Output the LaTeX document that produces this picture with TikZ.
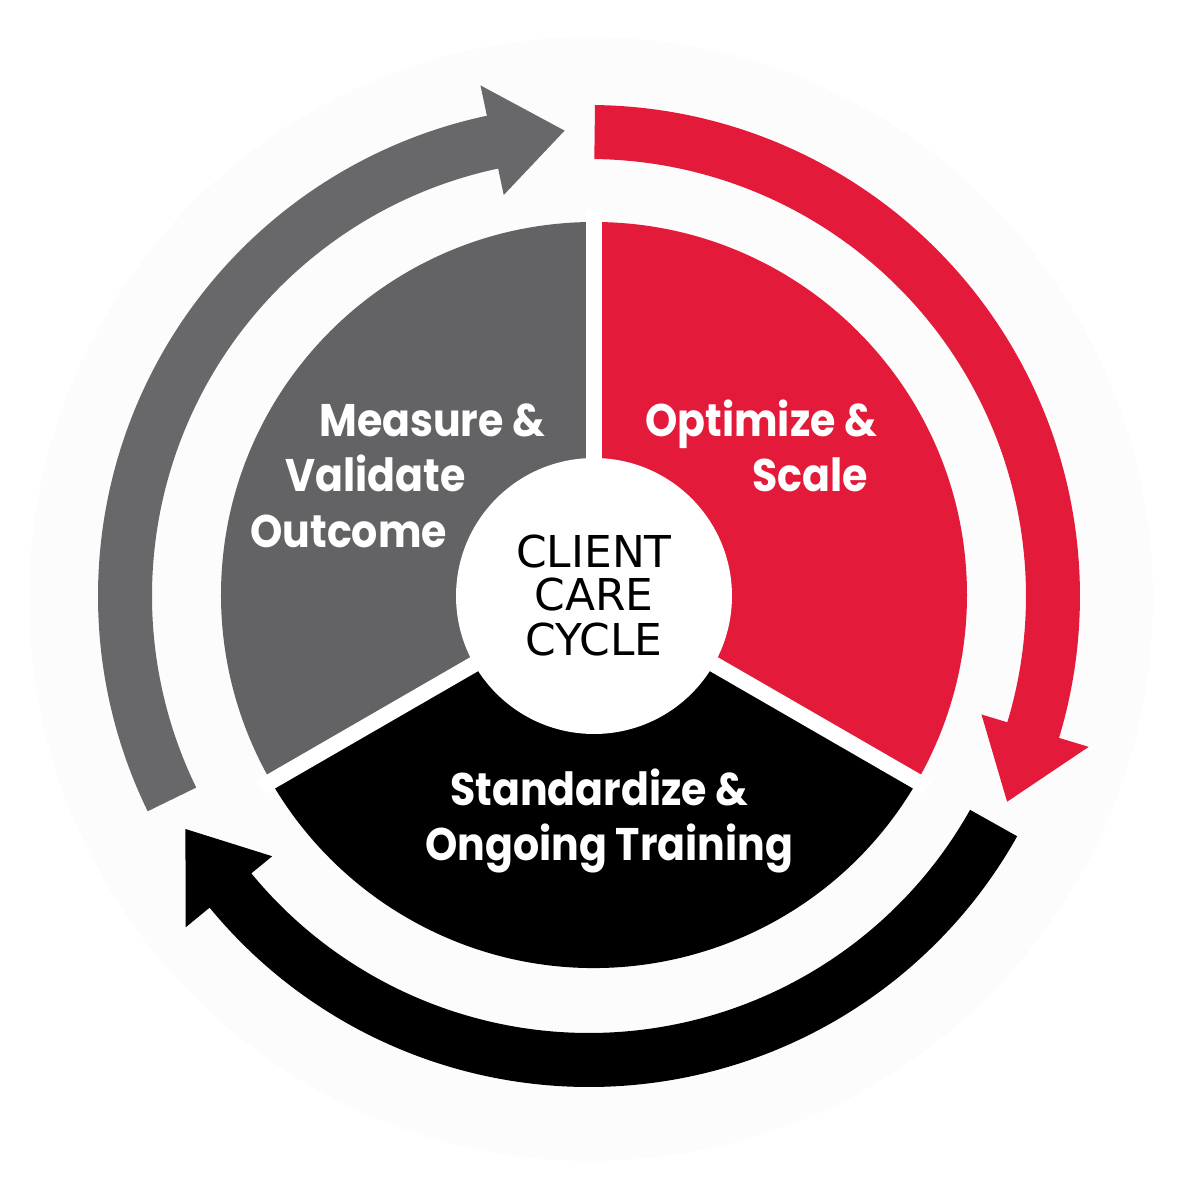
\documentclass[tikz,border=0pt]{standalone}
\usepackage{fontspec}
\usepackage{xcolor}
\usepackage{tikz}
\usetikzlibrary{positioning}
\newfontfamily\poppins{Poppins}[FakeStretch=0.9]
\newfontfamily\dejavu{DejaVu Sans}
\definecolor{cyclegray}{HTML}{636365}
\definecolor{cyclered}{HTML}{E41A3A}
\definecolor{cycleblack}{HTML}{000000}

\begin{document}
\begin{tikzpicture}[x=0.02cm, y=0.02cm,
  gapline/.style={draw=white, line width=0.32cm},
  hubdisc/.style={circle, fill=white, minimum size=5.52cm, inner sep=0pt},
  steplabel/.style={anchor=base west, inner sep=0pt, text=white,
    font=\poppins\bfseries\fontsize{26}{30}\selectfont},
  hublabel/.style={anchor=base, inner sep=0pt, text=black,
    font=\dejavu\fontsize{25}{28}\selectfont}
]
\useasboundingbox (-594,-605) rectangle (606,595);

%% ── Backdrop ──
\fill[black!1] (-3,-4) circle[radius=562];

%% ── Wedges ──
\fill[cyclegray]  (0,0) -- (90:373) arc[start angle=90, end angle=210, radius=373] -- cycle;
\fill[cyclered]   (0,0) -- (90:373) arc[start angle=90, end angle=-30, radius=373] -- cycle;
\fill[cycleblack] (0,0) -- (-30:373) arc[start angle=-30, end angle=-150, radius=373] -- cycle;
\draw[gapline] (0,0) -- (90:385);
\draw[gapline] (0,0) -- (-30:385);
\draw[gapline] (0,0) -- (210:385);

%% ── Hub ──
\node[hubdisc] (hub) at (0,-1) {};
\node[hublabel] (client) at (0,28)  {CLIENT};
\node[hublabel] (care)   at (0,-15) {CARE};
\node[hublabel] (cycle)  at (0,-60) {CYCLE};

%% ── Step labels ──
\node[steplabel] (measure)  at (-275,158) {Measure \&};
\node[steplabel] (validate) at (-309,103) {Validate};
\node[steplabel] (outcome)  at (-344,48)  {Outcome};

\node[steplabel] (optimize) at (51,158)   {Optimize \&};
\node[steplabel] (scale)    at (158,103)  {Scale};

\node[steplabel] (standard) at (-144,-210) {Standardize \&};
\node[steplabel] (training) at (-169,-265) {Ongoing Training};

%% ── Cycle arrows ──
\begin{scope}[shift={(-5,-1)}]
  \fill[cyclegray!97!white] (206:491) arc[start angle=206, end angle=102, radius=491]
    -- (102:522) -- (93:466) -- (102:410) -- (102:437)
    arc[start angle=102, end angle=206, radius=437] -- cycle;
  \fill[cyclered] (89.3:491) arc[start angle=89.3, end angle=-16.8, radius=491]
    -- (-16.8:522) -- (-26.2:466) -- (-16.8:410) -- (-16.8:437)
    arc[start angle=-16.8, end angle=89.3, radius=437] -- cycle;
  \fill[cycleblack] (-29.3:491) arc[start angle=-29.3, end angle=-140.6, radius=491]
    -- (-140.6:522) -- (-150:466) -- (-140.6:410) -- (-140.6:437)
    arc[start angle=-140.6, end angle=-29.3, radius=437] -- cycle;
\end{scope}

\end{tikzpicture}
\end{document}
